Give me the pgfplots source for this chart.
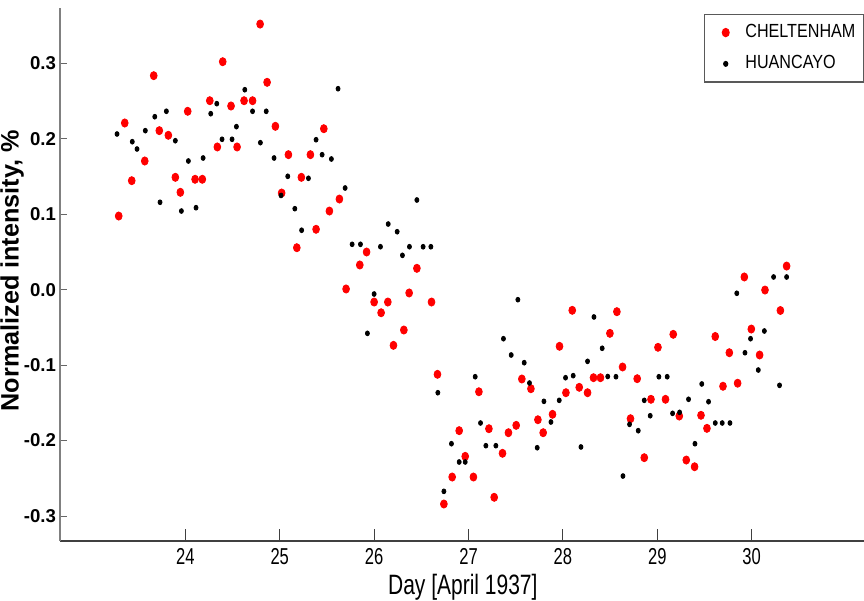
\documentclass[border=0pt]{standalone}
\usepackage{fontspec}
\setmainfont{Liberation Sans}
\usepackage{graphicx}
\usepackage{pgfplots}
\pgfplotsset{compat=1.18}
\pgfplotstableread{
x y
23.294 0.0976
23.358 0.2209
23.432 0.1444
23.570 0.1705
23.665 0.2836
23.724 0.2107
23.820 0.2046
23.894 0.1489
23.947 0.1290
24.025 0.2364
24.103 0.1463
24.180 0.1463
24.259 0.2504
24.339 0.1891
24.396 0.3021
24.484 0.2434
24.548 0.1891
24.622 0.2504
24.712 0.2504
24.792 0.3520
24.866 0.2748
24.954 0.2165
25.020 0.1281
25.092 0.1789
25.181 0.0556
25.229 0.1489
25.325 0.1789
25.385 0.0800
25.467 0.2133
25.526 0.1042
25.632 0.1201
25.703 0.0009
25.848 0.0327
25.920 0.0499
26.000 -0.0164
26.074 -0.0306
26.145 -0.0164
26.205 -0.0738
26.315 -0.0535
26.371 -0.0044
26.453 0.0283
26.608 -0.0164
26.671 -0.1122
26.739 -0.2841
26.827 -0.2483
26.901 -0.1869
26.965 -0.2209
27.052 -0.2483
27.110 -0.1353
27.216 -0.1843
27.272 -0.2752
27.360 -0.2169
27.423 -0.1896
27.505 -0.1798
27.565 -0.1184
27.661 -0.1313
27.735 -0.1724
27.791 -0.1896
27.890 -0.1652
27.964 -0.0751
28.032 -0.1366
28.099 -0.0274
28.173 -0.1294
28.261 -0.1366
28.324 -0.1167
28.398 -0.1167
28.498 -0.0579
28.572 -0.0292
28.632 -0.1025
28.716 -0.1710
28.787 -0.1180
28.862 -0.2227
28.933 -0.1453
29.007 -0.0764
29.087 -0.1453
29.169 -0.0592
29.233 -0.1675
29.307 -0.2258
29.395 -0.2347
29.463 -0.1665
29.526 -0.1838
29.614 -0.0621
29.696 -0.1280
29.763 -0.0836
29.851 -0.1240
29.922 0.0168
29.996 -0.0522
30.084 -0.0866
30.141 -0.0005
30.304 -0.0276
30.370 0.0313
}\cheltenham
\pgfplotstableread{
x y
23.276 0.2063
23.438 0.1961
23.488 0.1864
23.576 0.2107
23.676 0.2292
23.732 0.1158
23.799 0.2364
23.894 0.1974
23.958 0.1042
24.032 0.1705
24.113 0.1086
24.188 0.1745
24.269 0.2332
24.333 0.2465
24.389 0.1993
24.495 0.1993
24.541 0.2160
24.630 0.2650
24.712 0.2364
24.795 0.1948
24.857 0.2364
24.940 0.1745
25.014 0.1248
25.085 0.1502
25.160 0.1073
25.232 0.0787
25.304 0.1476
25.385 0.1987
25.449 0.1789
25.547 0.1732
25.618 0.2663
25.693 0.1347
25.767 0.0601
25.855 0.0601
25.929 -0.0579
26.000 -0.0058
26.067 0.0569
26.149 0.0870
26.244 0.0768
26.300 0.0455
26.374 0.0569
26.453 0.1188
26.519 0.0569
26.601 0.0569
26.675 -0.1366
26.739 -0.2673
26.819 -0.2042
26.901 -0.2284
26.965 -0.2284
27.071 -0.1154
27.127 -0.1767
27.184 -0.2068
27.290 -0.2068
27.370 -0.0650
27.452 -0.0866
27.523 -0.0133
27.590 -0.0968
27.646 -0.1237
27.728 -0.2095
27.799 -0.1480
27.873 -0.1754
27.961 -0.1467
28.028 -0.1167
28.109 -0.1140
28.191 -0.2085
28.261 -0.0950
28.329 -0.0362
28.416 -0.0777
28.475 -0.1151
28.562 -0.1154
28.636 -0.2470
28.706 -0.1785
28.798 -0.1869
28.862 -0.1467
28.925 -0.1671
29.017 -0.1154
29.105 -0.1154
29.162 -0.1639
29.236 -0.1626
29.331 -0.1453
29.399 -0.2042
29.471 -0.1250
29.543 -0.1485
29.614 -0.1767
29.688 -0.1767
29.770 -0.1767
29.842 -0.0048
29.929 -0.0836
29.988 -0.0650
30.070 -0.1065
30.134 -0.0548
30.232 0.0168
30.295 -0.1268
30.370 0.0168
}\huancayo
\newcommand{\myxt}[1]{\scalebox{0.72}[1]{#1}}
\newcommand{\mylgd}[1]{\scalebox{0.85}[1]{#1}}
\begin{document}
\begin{tikzpicture}
\begin{axis}[
  name=ax,
  scale only axis,
  width=402pt, height=266.5pt,
  xmin=22.672, xmax=31.19,
  ymin=-0.3331, ymax=0.3733,
  axis x line*=bottom,
  axis y line*=left,
  x axis line style={draw=black!75, line width=0.8pt},
  y axis line style={draw=black!50, line width=0.9pt},
  tick align=inside,
  major tick length=3.3pt,
  tick style={draw=black!60, line width=0.5pt},
  xtick style={/pgfplots/major tick length=5.8pt, draw=black!75},
  xtick={24,25,26,27,28,29,30},
  xticklabels={\myxt{24},\myxt{25},\myxt{26},\myxt{27},\myxt{28},\myxt{29},\myxt{30}},
  ytick={-0.3,-0.2,-0.1,0,0.1,0.2,0.3},
  yticklabels={-0.3,-0.2,-0.1,0.0,0.1,0.2,0.3},
  x tick label style={font=\fontsize{11.5}{13}\selectfont, inner sep=0.5pt, yshift=-3.2pt},
  y tick label style={font=\fontsize{9.3}{11}\selectfont\bfseries, xshift=1.5pt},
  xlabel={\scalebox{0.75}[1]{Day [April 1937]}},
  xlabel style={font=\fontsize{14}{16}\selectfont, inner sep=0.5pt, at={(axis description cs:0.501,0)}, anchor=center, yshift=-23pt},
  ylabel={Normalized intensity, \%},
  ylabel style={font=\fontsize{12.6}{14}\selectfont\bfseries, at={(axis description cs:0,0.507)}, anchor=center, yshift=24pt},
  legend style={at={(1,0.989)}, anchor=north east, draw=black!65, line width=0.6pt, fill=white,
    font=\fontsize{9.5}{11}\selectfont, row sep=3.5pt, inner xsep=2pt, inner ysep=3pt,
    cells={anchor=west}},
  legend image code/.code={\path (-8.5pt,0pt) (7.5pt,0pt); \draw[#1] plot coordinates {(0pt,0pt)};},
]
\addplot[only marks, mark=*, draw=red, fill=red, mark size=1.7pt, mark options={yscale=1.2}] table {\cheltenham};
\addlegendentry{\mylgd{CHELTENHAM}}
\addplot[only marks, mark=*, draw=black, fill=black, mark size=1pt, mark options={yscale=1.2}] table {\huancayo};
\addlegendentry{\mylgd{HUANCAYO}}
\end{axis}
\pgfresetboundingbox
\path ([shift={(-30pt,-30pt)}]ax.south west) rectangle ([shift={(0pt,4pt)}]ax.north east);
\end{tikzpicture}
\end{document}
